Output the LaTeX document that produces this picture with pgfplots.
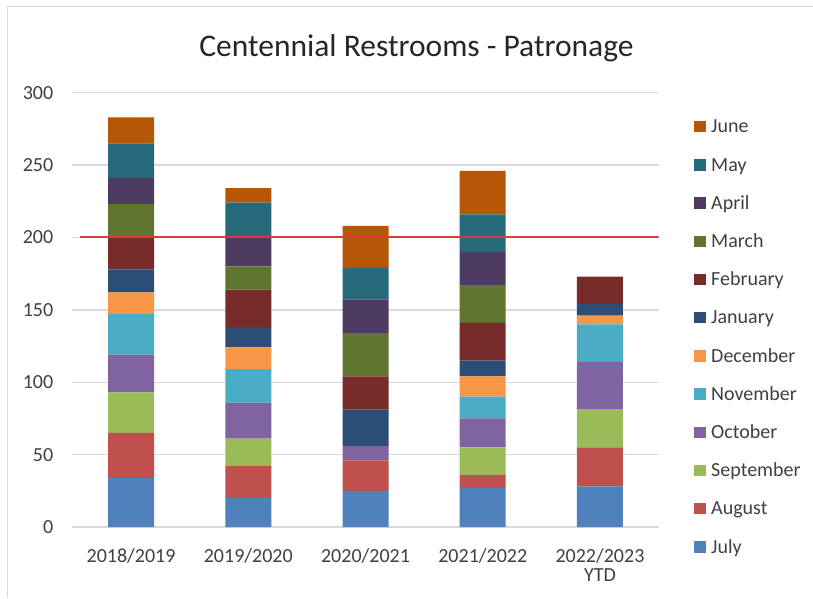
\documentclass[border=0pt]{standalone}
\usepackage{pgfplots}
\pgfplotsset{compat=1.18}
\usepackage{pgfplotstable}
\usepackage{fontspec}
\setmainfont{Carlito}
\definecolor{cJul}{HTML}{4F81BD}
\definecolor{cAug}{HTML}{C0504D}
\definecolor{cSep}{HTML}{9BBB59}
\definecolor{cOct}{HTML}{8064A2}
\definecolor{cNov}{HTML}{4BACC6}
\definecolor{cDec}{HTML}{F79646}
\definecolor{cJan}{HTML}{2C4D75}
\definecolor{cFeb}{HTML}{772C2A}
\definecolor{cMar}{HTML}{5F7530}
\definecolor{cApr}{HTML}{4D3B62}
\definecolor{cMay}{HTML}{276A7C}
\definecolor{cJun}{HTML}{B65708}
\definecolor{gridgray}{HTML}{D9D9D9}
\definecolor{txtgray}{HTML}{404040}
\definecolor{titlegray}{HTML}{262626}
\definecolor{redline}{HTML}{D93A3A}

\pgfplotstableread{
x Jul Aug Sep Oct Nov Dec Jan Feb Mar Apr May Jun
0 34 31 28 26 28 15 16 23 22 18 24 18
1 20 22 19 25 23 15 14 26 16 21 23 10
2 25 21 0 10 0 0 25 23 30 23 22 29
3 27 9 19 20 15 14 11 26 26 23 26 30
4 28 27 26 33 26 6 8 19 0 0 0 0
}\patronage

\begin{document}
\begin{tikzpicture}[x=1pt,y=1pt]
\useasboundingbox (0,0) rectangle (813,598);
\fill[white] (0,0) rectangle (813,598);
\draw[color=gridgray, line width=1pt] (7,0) -- (7,591) -- (813,591);
\node[anchor=base, font=\fontsize{31.5}{36}\selectfont, text=titlegray, inner sep=0pt] at (416.5,541.3) {Centennial Restrooms - Patronage};
\begin{axis}[
  at={(72.4pt,71pt)}, anchor=south west,
  scale only axis, width=586.2pt, height=434.3pt,
  xmin=-0.5, xmax=4.5, ymin=0, ymax=300,
  ybar stacked, bar width=46pt,
  axis line style={draw=none},
  ymajorgrids, grid style={gridgray, line width=1.3pt},
  major tick length=0pt,
  ytick={0,50,...,300},
  xtick={0,1,2,3,4},
  xticklabels={2018/2019,2019/2020,2020/2021,2021/2022,{2022/2023\\YTD}},
  /pgf/number format/assume math mode=true,
  tick label style={font=\fontsize{20}{19}\selectfont, text=txtgray},
  yticklabel style={anchor=east, inner sep=0pt, xshift=-19pt},
  xticklabel style={anchor=north, align=center, inner sep=0pt, yshift=-21pt},
  reverse legend,
  legend style={at={(1.0604,0.9395)}, anchor=north west, draw=none, fill=none,
    inner sep=0pt, outer sep=0pt, row sep=19.2pt,
    font=\fontsize{20}{24}\selectfont, text=txtgray,
    nodes={inner sep=0pt, text height=14pt, text depth=5pt, anchor=base west},
    column sep=5.7pt},
  legend image code/.code={\fill[#1] (0pt,0.5pt) rectangle (11.5pt,12pt);},
]
\addplot[fill=cJul, draw=none] table[x=x,y=Jul]{\patronage};
\addplot[fill=cAug, draw=none] table[x=x,y=Aug]{\patronage};
\addplot[fill=cSep, draw=none] table[x=x,y=Sep]{\patronage};
\addplot[fill=cOct, draw=none] table[x=x,y=Oct]{\patronage};
\addplot[fill=cNov, draw=none] table[x=x,y=Nov]{\patronage};
\addplot[fill=cDec, draw=none] table[x=x,y=Dec]{\patronage};
\addplot[fill=cJan, draw=none] table[x=x,y=Jan]{\patronage};
\addplot[fill=cFeb, draw=none] table[x=x,y=Feb]{\patronage};
\addplot[fill=cMar, draw=none] table[x=x,y=Mar]{\patronage};
\addplot[fill=cApr, draw=none] table[x=x,y=Apr]{\patronage};
\addplot[fill=cMay, draw=none] table[x=x,y=May]{\patronage};
\addplot[fill=cJun, draw=none] table[x=x,y=Jun]{\patronage};
\legend{July,August,September,October,November,December,January,February,March,April,May,June}
\end{axis}
\begin{axis}[
  at={(72.4pt,71pt)}, anchor=south west,
  scale only axis, width=586.2pt, height=434.3pt,
  xmin=-0.5, xmax=4.5, ymin=0, ymax=300,
  hide axis,
]
\addplot[color=redline, line width=2pt] coordinates {(-0.435,200) (4.5,200)};
\end{axis}
\end{tikzpicture}
\end{document}
